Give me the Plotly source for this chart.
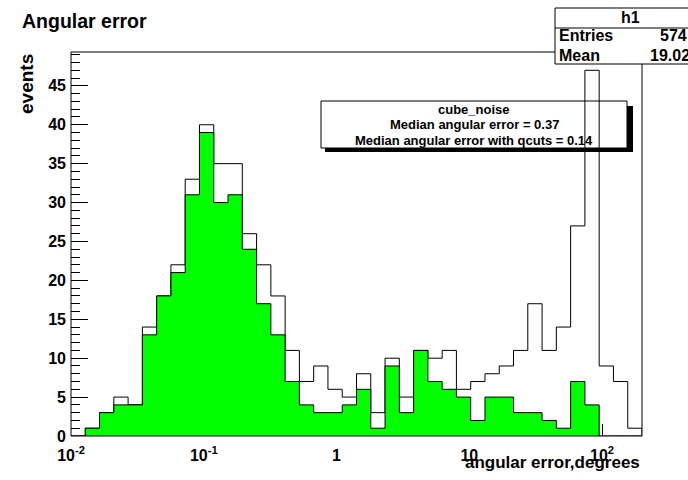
import numpy as np
import plotly.graph_objects as go

# ---- data ----
BIN_MIN = 0.01
BIN_MAX = 200.0
N_BINS = 40

all_counts = [0, 1, 3, 5, 4, 14, 18, 22, 33, 40, 35, 35, 26, 22, 18, 11, 7, 9, 6, 5,
              8, 3, 10, 5, 11, 10, 11, 6, 7, 8, 9, 11, 17, 11, 14, 27, 47, 9, 7, 1]
qcut_counts = [0, 1, 3, 4, 4, 13, 18, 21, 31, 39, 30, 31, 24, 17, 13, 7, 4, 3, 3, 4,
               6, 1, 9, 3, 11, 7, 6, 5, 2, 5, 5, 3, 3, 2, 1, 7, 4, 0, 0, 0]

x_tickvals = [0.01, 0.1, 1, 10, 100]
x_ticktext = ["10<sup>-2</sup>", "10<sup>-1</sup>", "1", "10", "10<sup>2</sup>"]

title_text = "Angular error"
x_title = "angular error,degrees"
y_title = "events"
legend_lines = ["cube_noise", "Median angular error = 0.37", "Median angular error with qcuts = 0.14"]
stat_name = "h1"
stat_entries = "574"
stat_mean = "19.02"

# ---- layout geometry (pixels) ----
W, H = 688, 480
L, R, T, B = 71, 642, 52, 436
PW, PH = R - L, B - T


def px(x):
    return (x - L) / PW


def py(y):
    return (B - y) / PH


edges = np.logspace(np.log10(BIN_MIN), np.log10(BIN_MAX), N_BINS + 1)


def step_xy(counts):
    xs = [edges[0]] + list(edges) + [edges[-1]]
    ys = [0] + list(counts) + [counts[-1], 0]
    return xs, ys


FONT = "Liberation Sans, Arial, Helvetica, sans-serif"

fig = go.Figure()
xa, ya = step_xy(all_counts)
fig.add_trace(go.Scatter(x=xa, y=ya, mode="lines", line=dict(shape="hv", color="black", width=1),
                         hoverinfo="skip", showlegend=False))
xq, yq = step_xy(qcut_counts)
fig.add_trace(go.Scatter(x=xq, y=yq, mode="lines", line=dict(shape="hv", color="black", width=1),
                         fill="tozeroy", fillcolor="#00ff00", hoverinfo="skip", showlegend=False))

ymax = max(all_counts) * 1.05

fig.update_layout(
    width=W, height=H,
    template="none",
    paper_bgcolor="white", plot_bgcolor="white",
    margin=dict(l=L, r=W - R, t=T, b=H - B, pad=0),
    showlegend=False,
    xaxis=dict(type="log", range=[np.log10(BIN_MIN), np.log10(BIN_MAX)],
               tickvals=x_tickvals, ticktext=x_ticktext,
               ticks="inside", ticklen=12, tickcolor="black", tickwidth=1,
               showgrid=False, zeroline=False, showline=False, layer="below traces",
               tickfont=dict(family=FONT, size=16, color="black", weight="bold"),
               ticklabelstandoff=8,
               automargin=False),
    yaxis=dict(range=[0, ymax], tick0=0, dtick=5,
               ticks="inside", ticklen=17, tickcolor="black", tickwidth=1,
               minor=dict(dtick=1, ticks="inside", ticklen=9, tickcolor="black", tickwidth=1),
               showgrid=False, zeroline=False, showline=False,
               tickfont=dict(family=FONT, size=16, color="black", weight="bold"),
               ticklabelstandoff=4,
               automargin=False),
)

shapes = []
# legend shadow + box (below traces: histogram lines cross it)
shapes.append(dict(type="rect", xref="paper", yref="paper", layer="below",
                   x0=px(325), x1=px(633), y0=py(152), y1=py(106),
                   fillcolor="black", line=dict(width=0)))
shapes.append(dict(type="rect", xref="paper", yref="paper", layer="below",
                   x0=px(321), x1=px(627), y0=py(148), y1=py(101),
                   fillcolor="white", line=dict(color="black", width=1)))
# frame
shapes.append(dict(type="rect", xref="paper", yref="paper", layer="above",
                   x0=0, x1=1, y0=0, y1=1, line=dict(color="black", width=1)))
# stat box
shapes.append(dict(type="rect", xref="paper", yref="paper", layer="above",
                   x0=px(555), x1=px(720), y0=py(64), y1=py(8),
                   fillcolor="white", line=dict(color="black", width=1)))
shapes.append(dict(type="line", xref="paper", yref="paper", layer="above",
                   x0=px(555), x1=px(720), y0=py(28), y1=py(28),
                   line=dict(color="black", width=1)))
fig.update_layout(shapes=shapes)

ann = []


def add_text(text, x, y, size, xanchor="center", yanchor="middle", angle=0):
    ann.append(dict(text=text, xref="paper", yref="paper", x=px(x), y=py(y),
                    xanchor=xanchor, yanchor=yanchor, showarrow=False, textangle=angle,
                    font=dict(family=FONT, size=size, color="black", weight="bold")))


add_text(title_text, 20, 21, 19.5, xanchor="left")
add_text(y_title, 26, 84, 19, angle=-90)
add_text(x_title, 642, 462, 17, xanchor="right")
add_text(legend_lines[0], 474, 110, 13)
add_text(legend_lines[1], 474, 124, 13)
add_text(legend_lines[2], 474, 140, 13)
add_text(stat_name, 630, 18, 16)
add_text("Entries", 557, 36, 16, xanchor="left")
add_text("Mean", 557, 55, 16, xanchor="left")
add_text(stat_entries, 689, 36, 16, xanchor="right")
add_text(stat_mean, 692, 55, 16, xanchor="right")
fig.update_layout(annotations=ann)

fig.write_html("out.html", config={"displayModeBar": False},
               post_script="document.body.style.margin='0';document.body.style.padding='0';")
